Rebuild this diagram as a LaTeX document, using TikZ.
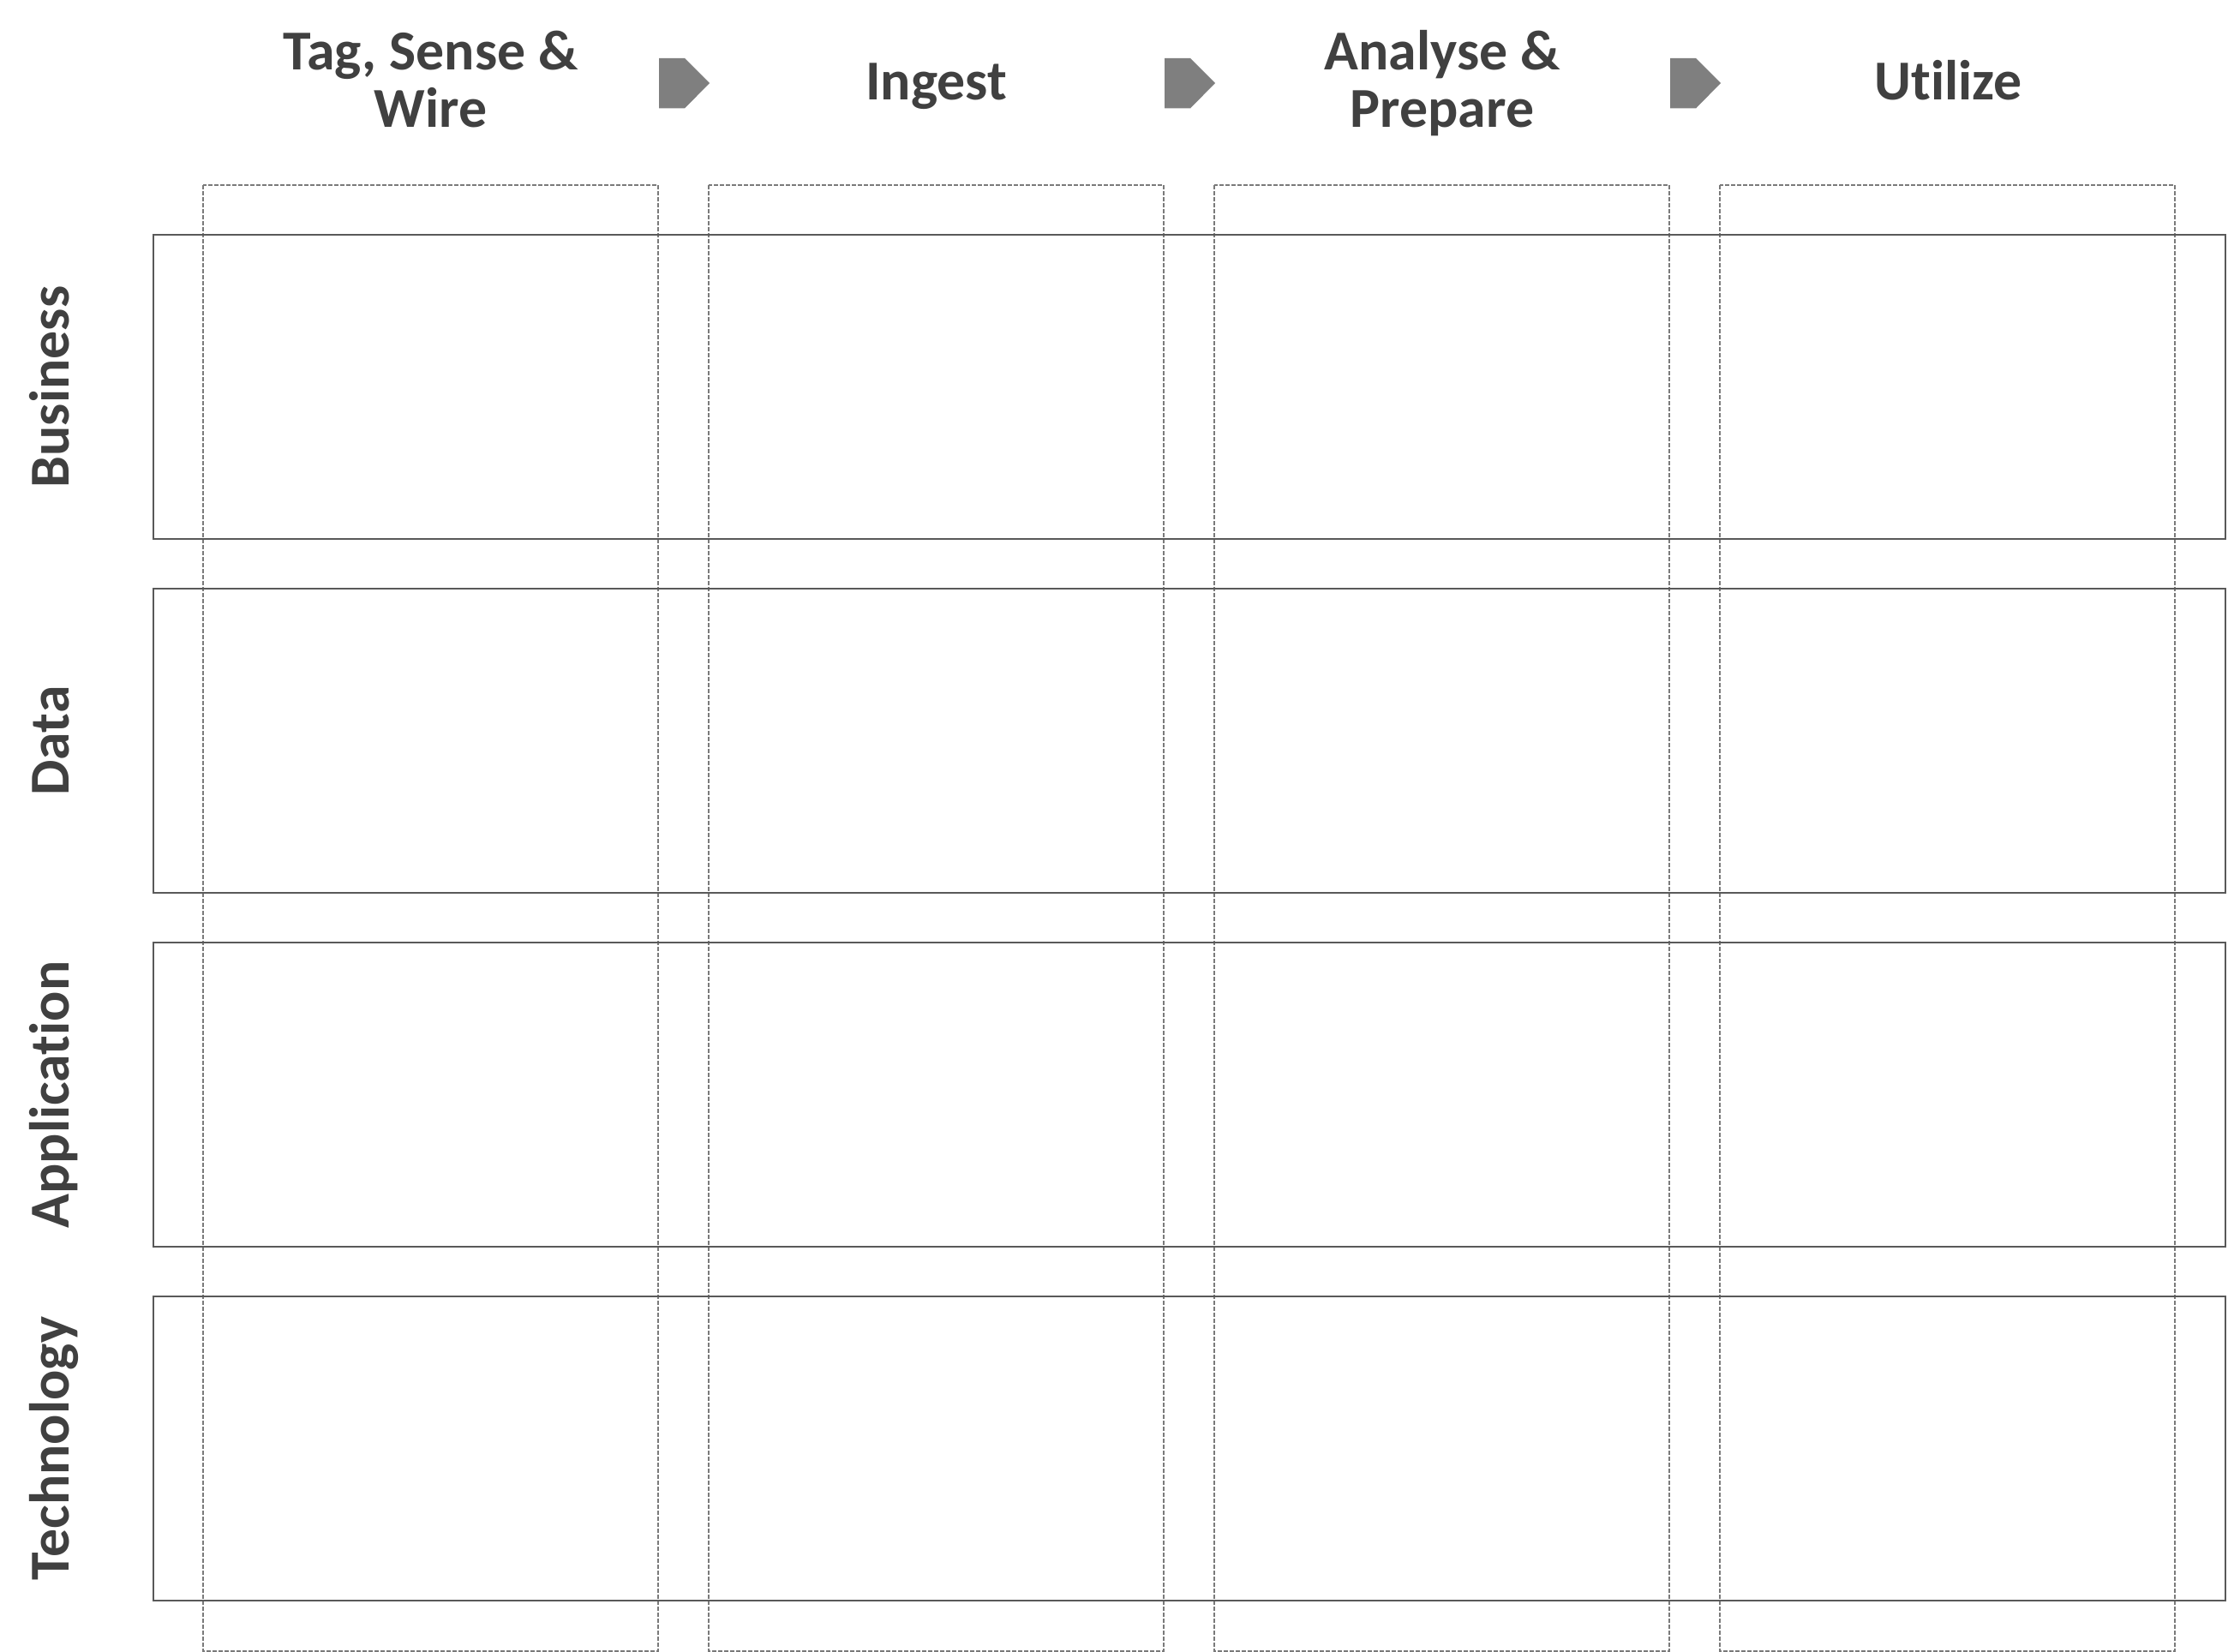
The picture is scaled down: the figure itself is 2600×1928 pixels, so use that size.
\documentclass[tikz,border=0pt]{standalone}
\usepackage{fontspec}
\setmainfont[Ligatures={NoCommon}]{Carlito}
\definecolor{txt}{HTML}{404040}
\definecolor{arr}{HTML}{7F7F7F}
\definecolor{rowline}{HTML}{595959}
\definecolor{colline}{HTML}{7A7A7A}
\begin{document}
\begin{tikzpicture}[x=0.3pt,y=-0.3pt,
  hdr/.style={font=\fontsize{19.74}{20}\selectfont\bfseries, text=txt, inner sep=0pt, align=center, anchor=base},
  rowlbl/.style={font=\fontsize{19.74}{20}\selectfont\bfseries, text=txt, inner sep=0pt, rotate=90, anchor=base},
  rowbox/.style={draw=rowline, line width=0.45pt},
  colbox/.style={draw=colline, line width=0.4pt, dash pattern=on 1.4pt off 0.7pt},
  chev/.style={fill=arr, draw=none}]
\useasboundingbox (0,0) rectangle (2600,1928);
% dashed column boxes
\foreach \i/\xl in {1/237,2/827,3/1417,4/2007}{
  \draw[colbox] (\xl,216) rectangle ++(531,1711);
}
% row boxes
\foreach \j/\yt in {1/274,2/687,3/1100,4/1513}{
  \draw[rowbox] (179,\yt) rectangle (2597,\yt+355);
}
% chevrons
\foreach \xa in {769,1359,1949}{
  \fill[chev] (\xa,68) -- (\xa+30,68) -- (\xa+59,97) -- (\xa+30,126.5) -- (\xa,126.5) -- cycle;
}
% headers
\node[hdr] (h1) at (502.5,148.3) {Tag, Sense \&\\Wire};
\node[hdr] (h2) at (1092.5,116.7) {Ingest};
\node[hdr] (h3) at (1683,148.3) {Analyse \&\\Prepare};
\node[hdr] (h4) at (2273.5,116.7) {Utilize};
% row labels
\node[rowlbl] (r1) at (80,451.5) {Business};
\node[rowlbl] (r2) at (80,864.5) {Data};
\node[rowlbl] (r3) at (80,1277.5) {Application};
\node[rowlbl] (r4) at (80,1690.5) {Technology};
\end{tikzpicture}
\end{document}
